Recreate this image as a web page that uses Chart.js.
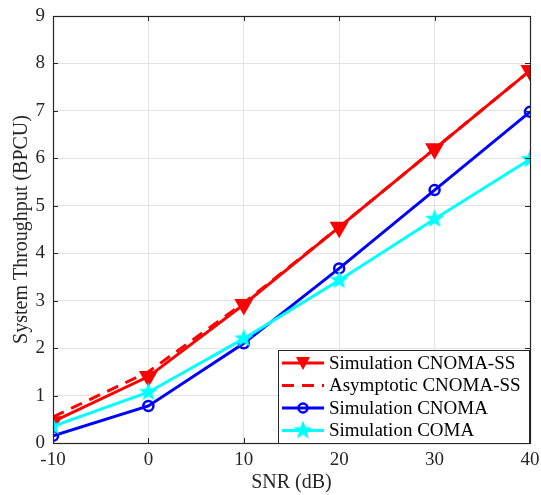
<!DOCTYPE html>
<html>
<head>
<meta charset="utf-8">
<script src="https://cdn.jsdelivr.net/npm/chart.js@4.4.1/dist/chart.umd.min.js"></script>
<style>
  html, body { margin: 0; padding: 0; background: #fff; }
  #wrap { width: 541px; height: 495px; }
</style>
</head>
<body>
<div id="wrap"><canvas id="lineChart" width="541" height="495"></canvas></div>
<script>
// data
const snr = [-10, 0, 10, 20, 30, 40];
const simCnomaSS = [0.45, 1.40, 2.92, 4.55, 6.20, 7.85];
const asyCnomaSS = [0.55, 1.50, 2.95, 4.55, 6.20, 7.85];
const simCnoma = [0.15, 0.78, 2.10, 3.68, 5.33, 6.98];
const simComa = [0.35, 1.07, 2.20, 3.43, 4.72, 5.98];
const yTicks = [0, 1, 2, 3, 4, 5, 6, 7, 8, 9];
const seriesNames = ['Simulation CNOMA-SS', 'Asymptotic CNOMA-SS', 'Simulation CNOMA', 'Simulation COMA'];

const FONT = '"Liberation Serif", "Times New Roman", serif';

// filled five point star for the COMA series
function makeStar(r, color) {
    const c = document.createElement('canvas');
    c.width = c.height = r * 2 + 2;
    const g = c.getContext('2d');
    g.fillStyle = color;
    g.beginPath();
    for (let i = 0; i < 10; i++) {
        const rad = i % 2 === 0 ? r : r * 0.42;
        const a = -Math.PI / 2 + i * Math.PI / 5;
        g.lineTo(r + 1 + rad * Math.cos(a), r + 1 + rad * Math.sin(a));
    }
    g.closePath();
    g.fill();
    return c;
}
const starImg = makeStar(10, '#00ffff');

function pts(arr) {
    return snr.map((x, i) => ({ x: x, y: arr[i] }));
}

// box, inner ticks and legend, MATLAB style
const matlabBox = {
    id: 'matlabBox',
    afterDatasetsDraw(chart) {
        const ctx = chart.ctx;
        const a = chart.chartArea;
        const xs = chart.scales.x, ys = chart.scales.y;
        ctx.save();
        ctx.strokeStyle = '#262626';
        ctx.lineWidth = 1;
        ctx.beginPath();
        snr.forEach(v => {
            const px = Math.round(xs.getPixelForValue(v)) + 0.5;
            ctx.moveTo(px, a.bottom); ctx.lineTo(px, a.bottom - 5);
            ctx.moveTo(px, a.top); ctx.lineTo(px, a.top + 5);
        });
        yTicks.forEach(v => {
            const py = Math.round(ys.getPixelForValue(v)) + 0.5;
            ctx.moveTo(a.left, py); ctx.lineTo(a.left + 5, py);
            ctx.moveTo(a.right, py); ctx.lineTo(a.right - 5, py);
        });
        ctx.stroke();
        ctx.lineWidth = 1.2;
        ctx.strokeRect(a.left + 0.5, a.top + 0.5, a.right - a.left, a.bottom - a.top);

        // legend
        const lx = a.right - 252, ly = a.bottom - 93, lw = 251, lh = 93;
        ctx.fillStyle = '#fff';
        ctx.fillRect(lx, ly, lw, lh);
        ctx.strokeStyle = '#262626';
        ctx.lineWidth = 1;
        ctx.strokeRect(lx + 0.5, ly + 0.5, lw, lh);
        chart.data.datasets.forEach((ds, i) => {
            const cy = ly + 13 + i * 22.5;
            ctx.strokeStyle = ds.borderColor;
            ctx.lineWidth = 3;
            ctx.setLineDash(ds.borderDash || []);
            ctx.beginPath();
            ctx.moveTo(lx + 4, cy); ctx.lineTo(lx + 46, cy);
            ctx.stroke();
            ctx.setLineDash([]);
            const mx = lx + 25;
            if (ds.pointStyle === 'triangle') {
                ctx.fillStyle = ds.borderColor;
                ctx.beginPath();
                ctx.moveTo(mx - 7, cy - 6); ctx.lineTo(mx + 7, cy - 6); ctx.lineTo(mx, cy + 7);
                ctx.closePath(); ctx.fill();
            } else if (ds.pointStyle === 'circle') {
                ctx.lineWidth = 2.5;
                ctx.beginPath(); ctx.arc(mx, cy, 4.5, 0, Math.PI * 2); ctx.stroke();
            } else if (ds.pointStyle === starImg) {
                ctx.drawImage(starImg, mx - 11, cy - 11);
            }
            ctx.fillStyle = '#000';
            ctx.font = '19px ' + FONT;
            ctx.textBaseline = 'middle';
            ctx.fillText(ds.label, lx + 51, cy + 1);
        });
        ctx.restore();
    }
};

const ctx = document.getElementById('lineChart').getContext('2d');
const lineChart = new Chart(ctx, {
    type: 'line',
    data: {
        datasets: [
            {
                label: seriesNames[0],
                data: pts(simCnomaSS),
                borderColor: '#ff0000',
                backgroundColor: '#ff0000',
                borderWidth: 3,
                pointStyle: 'triangle',
                rotation: 180,
                pointRadius: 8,
                order: 3
            },
            {
                label: seriesNames[1],
                data: pts(asyCnomaSS),
                borderColor: '#ff0000',
                borderWidth: 3,
                borderDash: [12, 8],
                pointRadius: 0,
                order: 2
            },
            {
                label: seriesNames[2],
                data: pts(simCnoma),
                borderColor: '#0000ff',
                backgroundColor: 'rgba(0,0,0,0)',
                borderWidth: 3,
                pointStyle: 'circle',
                pointRadius: 5,
                pointBorderWidth: 2.5,
                order: 1
            },
            {
                label: seriesNames[3],
                data: pts(simComa),
                borderColor: '#00ffff',
                backgroundColor: '#00ffff',
                borderWidth: 3,
                pointStyle: starImg,
                order: 0
            }
        ]
    },
    options: {
        responsive: false,
        animation: false,
        events: [],
        layout: { padding: { top: 16, right: 10, left: 0, bottom: 0 } },
        plugins: {
            legend: { display: false },
            tooltip: { enabled: false }
        },
        scales: {
            x: {
                type: 'linear',
                min: -10,
                max: 40,
                afterBuildTicks(scale) { scale.ticks = snr.map(v => ({ value: v })); },
                afterFit(scale) {
                    scale.height = 52;
                    scale.paddingLeft = 0;
                    scale.paddingRight = 0;
                },
                grid: { color: '#e3e3e3', drawTicks: false, lineWidth: 1 },
                border: { display: false },
                ticks: { color: '#262626', font: { family: FONT, size: 19 }, padding: 6, maxRotation: 0 },
                title: { display: true, text: 'SNR (dB)', color: '#262626', font: { family: FONT, size: 20 }, padding: { top: 0, bottom: 0 } }
            },
            y: {
                min: 0,
                max: 9,
                afterBuildTicks(scale) { scale.ticks = yTicks.map(v => ({ value: v })); },
                afterFit(scale) {
                    scale.width = 53;
                    scale.paddingTop = 0;
                    scale.paddingBottom = 0;
                },
                grid: { color: '#e3e3e3', drawTicks: false, lineWidth: 1 },
                border: { display: false },
                ticks: { color: '#262626', font: { family: FONT, size: 19 }, padding: 8 },
                title: { display: true, text: 'System Throughput (BPCU)', color: '#262626', font: { family: FONT, size: 20 }, padding: { top: 10, bottom: 0 } }
            }
        }
    },
    plugins: [matlabBox]
});
</script>
</body>
</html>
